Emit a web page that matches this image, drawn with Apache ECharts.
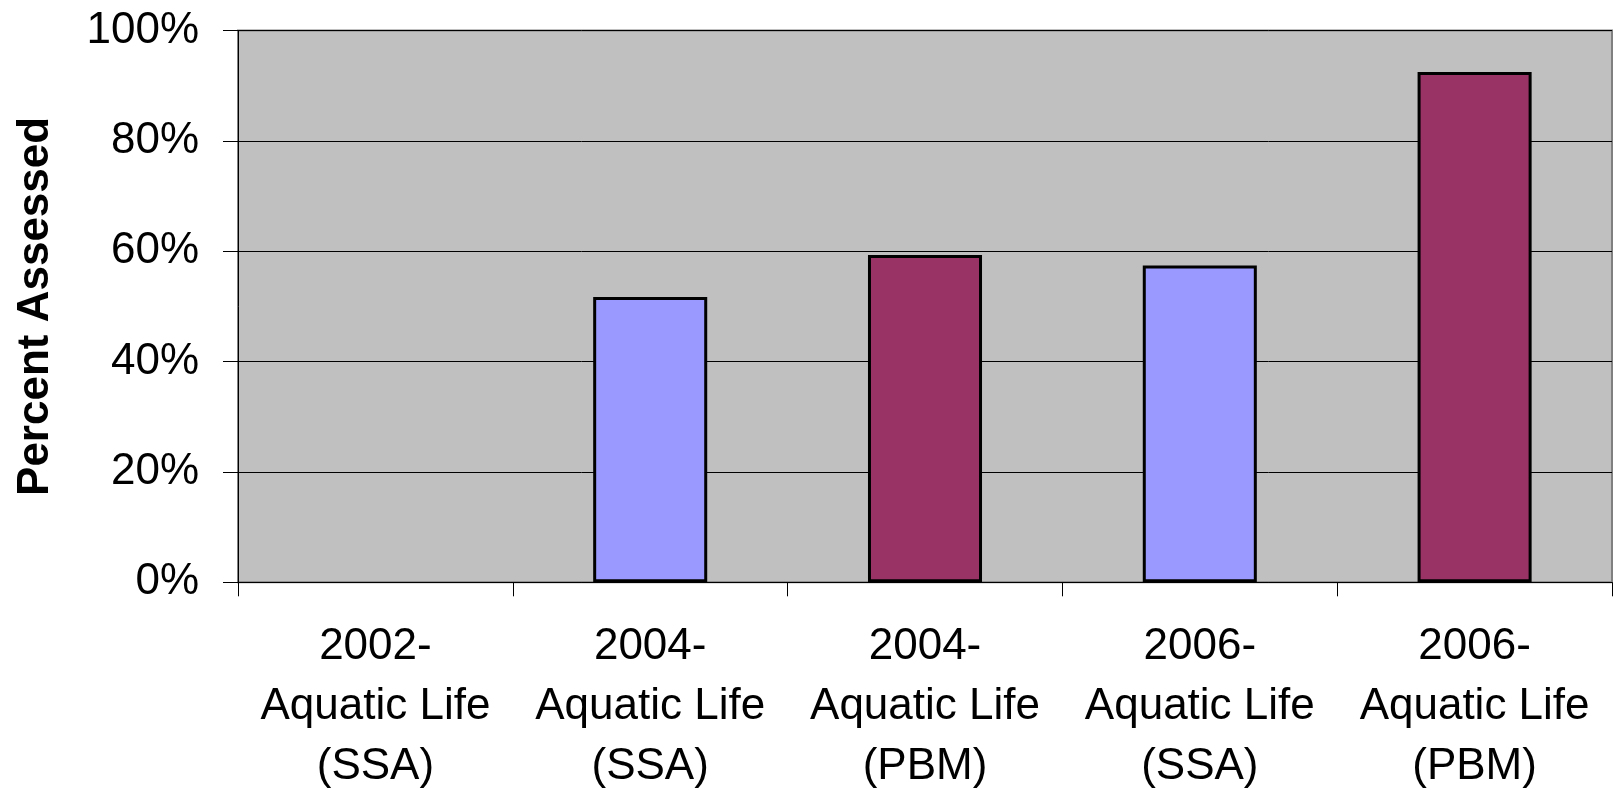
<!DOCTYPE html>
<html>
<head>
<meta charset="utf-8">
<style>
html,body{margin:0;padding:0;background:#fff;}
#c{width:1614px;height:790px;}
</style>
<script src="https://cdn.jsdelivr.net/npm/echarts@6/dist/echarts.min.js"></script>
</head>
<body>
<div id="c"></div>
<script>
const categories = [
  "2002-\nAquatic Life\n(SSA)",
  "2004-\nAquatic Life\n(SSA)",
  "2004-\nAquatic Life\n(PBM)",
  "2006-\nAquatic Life\n(SSA)",
  "2006-\nAquatic Life\n(PBM)"
];
const methods = ["SSA", "SSA", "PBM", "SSA", "PBM"];
const percentAssessed = [null, 51.7, 59.3, 57.4, 92.5];
const yTicks = [0, 20, 40, 60, 80, 100];

const methodColors = { SSA: "#9999FF", PBM: "#993366" };
const FONT = "Liberation Sans, Arial, sans-serif";

const chart = echarts.init(document.getElementById("c"), null, { renderer: "canvas" });
chart.setOption({
  backgroundColor: "#ffffff",
  animation: false,
  grid: {
    left: 238, right: 2, top: 30.5, bottom: 207.7,
    outerBoundsMode: "none",
    containLabel: false,
    show: true, backgroundColor: "#C0C0C0",
    borderColor: "#808080", borderWidth: 2
  },
  xAxis: {
    type: "category",
    data: categories,
    boundaryGap: true,
    axisLine: { show: true, lineStyle: { color: "#000", width: 1 } },
    axisTick: { show: true, length: 14, alignWithLabel: false, lineStyle: { color: "#000" } },
    axisLabel: {
      interval: 0, margin: 35, color: "#000",
      fontFamily: FONT, fontSize: 44, lineHeight: 60, align: "center"
    },
    splitLine: { show: false }
  },
  yAxis: {
    type: "value",
    min: yTicks[0], max: yTicks[yTicks.length - 1], interval: yTicks[1] - yTicks[0],
    name: "Percent Assessed",
    nameLocation: "middle",
    nameRotate: 90,
    nameGap: 180,
    nameTextStyle: { fontFamily: FONT, fontSize: 44, fontWeight: "bold", color: "#000" },
    axisLine: { show: true, lineStyle: { color: "#000", width: 1 } },
    axisTick: { show: true, inside: false, length: 15, lineStyle: { color: "#000" } },
    axisLabel: {
      margin: 39, color: "#000", fontFamily: FONT, fontSize: 44,
      formatter: "{value}%"
    },
    splitLine: { show: true, lineStyle: { color: "#000", width: 1 } }
  },
  series: [{
    type: "bar",
    barWidth: "41.5%",
    data: percentAssessed.map((v, i) => ({
      value: v,
      itemStyle: { color: methodColors[methods[i]], borderColor: "#000", borderWidth: 3 }
    }))
  }]
});
</script>
</body>
</html>
